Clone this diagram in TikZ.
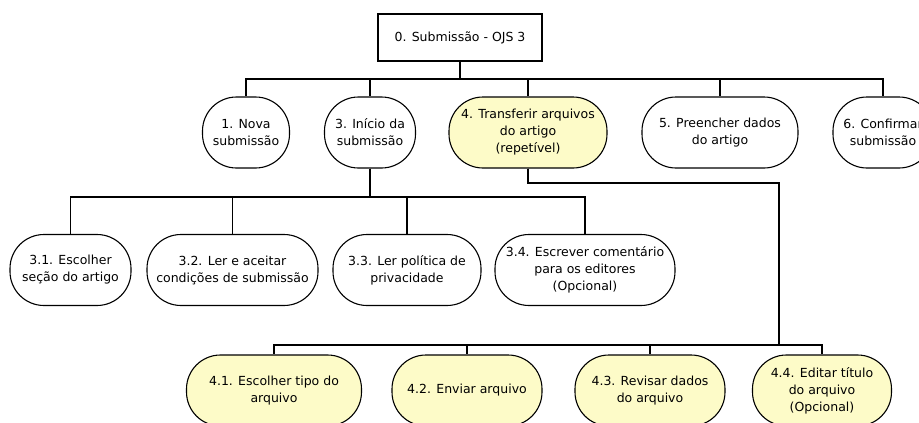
\documentclass[tikz,border=0pt]{standalone}
\usepackage{fontspec}
\newfontfamily\dejavu{DejaVu Sans}
\definecolor{taskyellow}{HTML}{FDFBC8}
\tikzset{
  wbs/.style={draw=black, line width=1.1pt, align=center, inner sep=0pt,
    font=\dejavu\fontsize{12.5}{17}\selectfont},
  rootbox/.style={wbs, rectangle, minimum width=164pt, minimum height=47pt},
  stadium/.style={wbs, rectangle, rounded corners=34pt, minimum height=71pt, fill=white},
  filetask/.style={stadium, fill=taskyellow},
  link/.style={draw=black, line width=1.1pt}
}
\begin{document}
\begin{tikzpicture}[x=1pt, y=-1pt]
\useasboundingbox (0,0) rectangle (919,423);

% root
\node[rootbox] (root) at (460,37.5) {0. Submissão - OJS 3};

% first level
\node[stadium, minimum width=87pt]  (n1) at (246,132.5) {1. Nova\\submissão};
\node[stadium, minimum width=91pt]  (n3) at (370,132.5) {3. Início da\\submissão};
\node[filetask, minimum width=158pt] (n4) at (528,132.5) {4. Transferir arquivos\\do artigo\\(repetível)};
\node[stadium, minimum width=156pt] (n5) at (720,132.5) {5. Preencher dados\\do artigo};
\node[stadium, minimum width=100pt] (n6) at (883,132.5) {6. Confirmar\\submissão};

% children of 3
\node[stadium, minimum width=121pt] (n31) at (70.5,270) {3.1. Escolher\\seção do artigo};
\node[stadium, minimum width=171pt] (n32) at (232.5,270) {3.2. Ler e aceitar\\condições de submissão};
\node[stadium, minimum width=148pt] (n33) at (407,270) {3.3. Ler política de\\privacidade};
\node[stadium, minimum width=180pt] (n34) at (585,270) {3.4. Escrever comentário\\para os editores\\(Opcional)};

% children of 4
\node[filetask, minimum width=175pt] (n41) at (274,390.5) {4.1. Escolher tipo do\\arquivo};
\node[filetask, minimum width=150pt] (n42) at (467,390.5) {4.2. Enviar arquivo};
\node[filetask, minimum width=150pt] (n43) at (650,390.5) {4.3. Revisar dados\\do arquivo};
\node[filetask, minimum width=139pt] (n44) at (822,390.5) {4.4. Editar título\\do arquivo\\(Opcional)};

% bus junctions
\coordinate (b0) at (460,79);
\coordinate (b3) at (370,197);
\coordinate (b4a) at (528,183);
\coordinate (b4b) at (779,183);
\coordinate (b4) at (779,345);

% connectors from the root
\foreach \c in {n1,n3,n4,n5,n6}
  \draw[link] (root.south) -- (b0) -| (\c.north);

% connectors under node 3
\foreach \c in {n31,n32,n33,n34}
  \draw[link] (n3.south) -- (b3) -| (\c.north);

% connectors under node 4
\foreach \c in {n41,n42,n43,n44}
  \draw[link] (n4.south) -- (b4a) -- (b4b) -- (b4) -| (\c.north);
\end{tikzpicture}
\end{document}
